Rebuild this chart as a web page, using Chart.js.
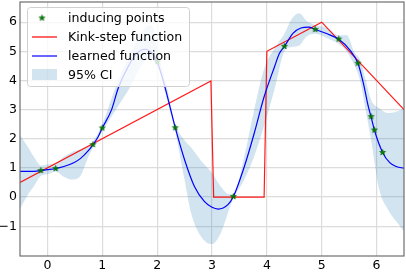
<!DOCTYPE html>
<html>
<head>
<meta charset="utf-8">
<script src="https://cdn.jsdelivr.net/npm/chart.js@4"></script>
<style>
  html, body { margin: 0; padding: 0; background: #fff; }
  #wrap { width: 406px; height: 272px; }
</style>
</head>
<body>
<div id="wrap"><canvas id="gpChart" width="406" height="272"></canvas></div>
<script>
// tick labels
const xTicks = [0, 1, 2, 3, 4, 5, 6];
const yTicks = [-1, 0, 1, 2, 3, 4, 5, 6];

// kink-step function (true function)
const kinkX = [-0.5, 2.98, 3.03, 3.95, 4.0, 5.0, 6.5];
const kinkY = [0.5, 3.98, 0.0, 0.0, 5.0, 6.0, 3.0];

// learned function (GP mean)
const fitX = [-0.5, -0.3, -0.12, 0.0, 0.15, 0.3, 0.45, 0.6, 0.75, 0.83, 0.92, 1.0, 1.17, 1.29, 1.47, 1.63, 1.78, 1.9,
  2.0, 2.14, 2.33, 2.5, 2.68, 2.86, 3.0, 3.11, 3.29, 3.39, 3.59, 3.77, 3.95, 4.14, 4.23, 4.32, 4.48, 4.62, 4.76, 4.88,
  5.1, 5.31, 5.51, 5.66, 5.76, 5.85, 5.9, 5.96, 6.11, 6.24, 6.36, 6.5];
const fitY = [0.88, 0.88, 0.91, 0.94, 0.98, 1.05, 1.15, 1.32, 1.6, 1.8, 2.05, 2.37, 3.0, 3.73, 4.47, 4.93, 5.07, 4.95,
  4.64, 3.79, 2.38, 1.28, 0.36, -0.15, -0.35, -0.41, -0.26, 0.02, 1.05, 2.19, 3.44, 4.47, 4.93, 5.17, 5.62, 5.8, 5.83, 5.75,
  5.6, 5.41, 5.05, 4.59, 3.9, 3.1, 2.75, 2.3, 1.53, 1.18, 1.05, 0.99];

// 95% confidence band
const bandX = [-0.5, -0.35, -0.25, -0.12, 0.0, 0.15, 0.3, 0.45, 0.6, 0.75, 0.83, 1.0, 1.25, 1.5, 1.75, 1.9, 2.03, 2.15,
  2.33, 2.5, 2.62, 2.8, 3.0, 3.16, 3.31, 3.39, 3.59, 3.77, 3.95, 4.14, 4.32, 4.45, 4.59, 4.72, 4.88, 5.1, 5.31, 5.45,
  5.6, 5.7, 5.8, 5.9, 6.05, 6.21, 6.36, 6.5];
const bandLower = [-0.4, 0.1, 0.36, 0.72, 0.78, 0.88, 0.7, 0.6, 0.72, 1.4, 1.7, 2.25, 3.0, 3.75, 4.6, 4.75, 4.4, 3.55,
  2.25, 0.59, -0.55, -1.35, -1.61, -1.23, -0.43, -0.05, 0.6, 1.4, 2.45, 3.7, 5.0, 5.15, 5.2, 5.5, 5.6, 5.45, 5.25, 5.0,
  4.5, 4.0, 3.0, 1.96, 0.25, -0.43, -0.84, -1.18];
const bandUpper = [2.13, 1.7, 1.39, 1.08, 1.12, 1.15, 1.38, 1.55, 1.63, 1.75, 1.9, 2.5, 3.8, 4.9, 5.75, 5.9, 4.85, 4.0,
  2.5, 1.95, 1.7, 1.25, 0.83, 0.36, 0.1, 0.1, 1.4, 3.0, 4.4, 5.1, 5.6, 6.1, 6.3, 6.05, 5.9, 5.8, 5.55, 5.56,
  4.95, 4.7, 4.02, 3.33, 3.05, 2.88, 2.93, 3.05];

// inducing points
const inducingX = [-0.12, 0.15, 0.83, 1.0, 2.0, 2.33, 3.39, 4.32, 4.88, 5.31, 5.66, 5.9, 5.96, 6.11];
const inducingY = [0.91, 0.98, 1.8, 2.37, 4.64, 2.38, 0.02, 5.17, 5.75, 5.42, 4.59, 2.76, 2.3, 1.53];

const legendLabels = ['inducing points', 'Kink-step function', 'learned function', '95% CI'];

const zip = (xs, ys) => xs.map((x, i) => ({ x: x, y: ys[i] }));
const bandColor = 'rgba(31, 119, 180, 0.2)';

// filled five-point star like matplotlib '*'
function makeStar(r) {
  const s = Math.ceil(r * 2 + 2);
  const c = document.createElement('canvas');
  c.width = s; c.height = s;
  const g = c.getContext('2d');
  g.beginPath();
  for (let i = 0; i < 10; i++) {
    const a = -Math.PI / 2 + i * Math.PI / 5;
    const rr = i % 2 ? r * 0.42 : r;
    g.lineTo(s / 2 + rr * Math.cos(a), s / 2 + rr * Math.sin(a));
  }
  g.closePath();
  g.fillStyle = '#008000';
  g.fill();
  g.strokeStyle = '#005a00';
  g.lineWidth = 0.6;
  g.stroke();
  return c;
}
const starImg = makeStar(3.1);

const FONT = '"DejaVu Sans", sans-serif';

// frame around the plot area, drawn over the data like matplotlib spines
const framePlugin = {
  id: 'frame',
  afterDatasetsDraw(chart) {
    const { ctx, chartArea: a } = chart;
    ctx.save();
    ctx.strokeStyle = '#6e6e6e';
    ctx.lineWidth = 1.2;
    ctx.strokeRect(a.left, a.top, a.right - a.left, a.bottom - a.top);
    ctx.restore();
  }
};

// legend box in the upper left of the axes
const legendPlugin = {
  id: 'innerLegend',
  afterDraw(chart) {
    const ctx = chart.ctx;
    ctx.save();
    const bx = 27, by = 7, bw = 162, bh = 79;
    ctx.beginPath();
    ctx.roundRect(bx + 0.5, by + 0.5, bw, bh, 3);
    ctx.fillStyle = 'rgba(255,255,255,0.8)';
    ctx.fill();
    ctx.strokeStyle = '#d0d0d0';
    ctx.lineWidth = 1;
    ctx.stroke();

    const rows = [18, 37, 56, 75];
    ctx.drawImage(starImg, 42 - starImg.width / 2, rows[0] - starImg.height / 2);

    ctx.lineWidth = 1.2;
    ctx.strokeStyle = 'red';
    ctx.beginPath(); ctx.moveTo(32, rows[1]); ctx.lineTo(57, rows[1]); ctx.stroke();
    ctx.strokeStyle = 'blue';
    ctx.beginPath(); ctx.moveTo(32, rows[2]); ctx.lineTo(57, rows[2]); ctx.stroke();
    ctx.fillStyle = bandColor;
    ctx.fillRect(32, rows[3] - 6, 25, 11);

    ctx.fillStyle = '#000';
    ctx.font = '12.6px ' + FONT;
    ctx.textBaseline = 'middle';
    legendLabels.forEach((t, i) => ctx.fillText(t, 68, rows[i] + 0.5));
    ctx.restore();
  }
};

const fmt = v => (v < 0 ? '\u2212' + Math.abs(v) : String(v));
const noPad = axis => {
  axis.paddingTop = 0; axis.paddingBottom = 0;
  axis.paddingLeft = 0; axis.paddingRight = 0;
};

const ctx = document.getElementById('gpChart').getContext('2d');
new Chart(ctx, {
  type: 'line',
  data: {
    datasets: [{
      label: legendLabels[0],
      data: zip(inducingX, inducingY),
      showLine: false,
      pointStyle: starImg,
      pointRadius: 4
    }, {
      label: legendLabels[2],
      data: zip(fitX, fitY),
      borderColor: 'blue',
      borderWidth: 1.2,
      pointRadius: 0,
      cubicInterpolationMode: 'monotone',
      fill: false
    }, {
      label: legendLabels[1],
      data: zip(kinkX, kinkY),
      borderColor: 'rgba(255, 0, 0, 0.9)',
      borderWidth: 1.2,
      pointRadius: 0,
      tension: 0,
      fill: false
    }, {
      label: 'lower',
      data: zip(bandX, bandLower),
      borderWidth: 0,
      borderColor: 'transparent',
      pointRadius: 0,
      cubicInterpolationMode: 'monotone',
      fill: false
    }, {
      label: legendLabels[3],
      data: zip(bandX, bandUpper),
      borderWidth: 0,
      borderColor: 'transparent',
      backgroundColor: bandColor,
      pointRadius: 0,
      cubicInterpolationMode: 'monotone',
      fill: '-1'
    }]
  },
  options: {
    responsive: false,
    animation: false,
    devicePixelRatio: 1,
    layout: { autoPadding: false, padding: { top: 2, right: 2, left: 0, bottom: 0 } },
    plugins: {
      legend: { display: false },
      tooltip: { enabled: false }
    },
    scales: {
      x: {
        type: 'linear',
        min: -0.5,
        max: 6.5,
        afterBuildTicks: axis => { axis.ticks = xTicks.map(v => ({ value: v })); },
        afterFit: axis => { axis.height = 16; noPad(axis); },
        grid: { color: '#dcdcdc', lineWidth: 1.2, drawTicks: false },
        border: { display: false },
        ticks: { color: '#000', font: { family: FONT, size: 12.5 }, padding: 2, callback: fmt }
      },
      y: {
        type: 'linear',
        min: -2.02,
        max: 6.69,
        afterBuildTicks: axis => { axis.ticks = yTicks.map(v => ({ value: v })); },
        afterFit: axis => { axis.width = 20; noPad(axis); },
        grid: { color: '#dcdcdc', lineWidth: 1.2, drawTicks: false },
        border: { display: false },
        ticks: { color: '#000', font: { family: FONT, size: 12.5 }, padding: 3, callback: fmt }
      }
    }
  },
  plugins: [framePlugin, legendPlugin]
});
</script>
</body>
</html>
